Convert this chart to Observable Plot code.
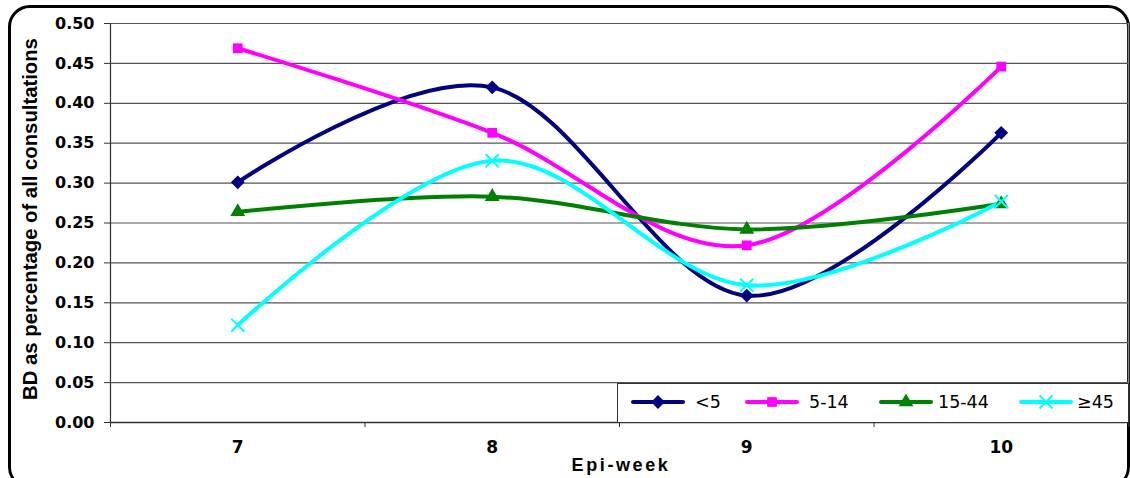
<!DOCTYPE html>
<html>
<head>
<meta charset="utf-8">
<script src="https://cdn.jsdelivr.net/npm/d3@7"></script>
<script src="https://cdn.jsdelivr.net/npm/@observablehq/plot@0.6"></script>
<style>
  html, body { margin: 0; padding: 0; background: #fff; overflow: hidden; }
  #wrap { position: relative; width: 1130px; height: 478px; overflow: hidden; }
  #frame { position: absolute; left: 8px; top: 5px; width: 1116px; height: 478px;
           border: 3px solid #000; border-radius: 22px; }
  #chart { position: absolute; left: 0; top: 0; }
  #legend { position: absolute; left: 617px; top: 383px; width: 510px; height: 38px;
            border: 1px solid #333; background: #fff; font-family: "DejaVu Sans", sans-serif;
            font-size: 17.5px; color: #000; }
  .lg-sw { position: absolute; top: 9px; }
  .lg-tx { position: absolute; top: 8px; line-height: 20px; }
  #ytitle { position: absolute; left: 30px; top: 219px; transform: translate(-50%, -50%) rotate(-90deg);
            white-space: nowrap; font-family: "Liberation Sans", Arial, sans-serif; font-weight: bold;
            font-size: 20.3px; line-height: 22px; }
  #xtitle { position: absolute; left: 621px; top: 465px; transform: translate(-50%, -50%);
            white-space: nowrap; font-family: "Liberation Sans", Arial, sans-serif; font-weight: bold;
            font-size: 18px; letter-spacing: 2.6px; line-height: 20px; }
</style>
</head>
<body>
<div id="wrap">
  <div id="frame"></div>
  <div id="chart"></div>
  <div id="legend"></div>
  <div id="ytitle"></div>
  <div id="xtitle"></div>
</div>
<script>
// ---- data ----
const weeks = [7, 8, 9, 10];
const under5 = [0.301, 0.420, 0.159, 0.363];
const age5to14 = [0.469, 0.363, 0.222, 0.446];
const age15to44 = [0.264, 0.283, 0.242, 0.274];
const age45plus = [0.122, 0.328, 0.172, 0.277];
const seriesNames = ["<5", "5-14", "15-44", "≥45"];
const seriesColors = ["#000080", "#FF00FF", "#008000", "#00FFFF"];
const yTicks = [0, 0.05, 0.10, 0.15, 0.20, 0.25, 0.30, 0.35, 0.40, 0.45, 0.50];
const weekBounds = [6.5, 7.5, 8.5, 9.5, 10.5];
const yLabel = "BD as percentage of all consultations";
const xLabel = "Epi-week";

// square diamond (rotated square) symbol
const squareDiamond = {
  draw(context, size) {
    const r = Math.sqrt(size / 2);
    context.moveTo(0, -r); context.lineTo(r, 0); context.lineTo(0, r); context.lineTo(-r, 0); context.closePath();
  }
};
const seriesSymbols = [squareDiamond, d3.symbolSquare, d3.symbolTriangle, d3.symbolTimes];

const seriesValues = [under5, age5to14, age15to44, age45plus];
const rows = [];
seriesNames.forEach((name, i) => {
  weeks.forEach((w, j) => rows.push({series: name, week: w, value: seriesValues[i][j]}));
});

const chart = Plot.plot({
  width: 1130,
  height: 478,
  marginLeft: 110,
  marginRight: 2,
  marginTop: 23,
  marginBottom: 56,
  style: {background: "transparent", fontFamily: "DejaVu Sans, sans-serif", color: "#000"},
  x: {domain: [6.5, 10.5]},
  y: {domain: [0, 0.5]},
  color: {domain: seriesNames, range: seriesColors},
  symbol: {domain: seriesNames, range: seriesSymbols},
  marks: [
    Plot.ruleY(yTicks, {stroke: "#555", strokeWidth: 1.2}),
    Plot.ruleX([10.5], {stroke: "#888", strokeWidth: 1.5}),
    Plot.ruleX([6.5], {stroke: "#333", strokeWidth: 1.2}),
    Plot.ruleY([0], {stroke: "#333", strokeWidth: 1.5}),
    Plot.axisY({ticks: yTicks, tickFormat: d3.format(".2f"), tickSize: 6, tickPadding: 10,
                fontWeight: "bold", fontSize: 16, label: null, stroke: "#333"}),
    Plot.axisX({ticks: weekBounds, tickFormat: () => "", tickSize: 5, label: null, stroke: "#333"}),
    Plot.axisX({ticks: weeks, tickFormat: d => String(d), tickSize: 0, tickPadding: 18,
                fontWeight: "bold", fontSize: 17, label: null}),
    Plot.line(rows, {x: "week", y: "value", z: "series", stroke: "series", strokeWidth: 4,
                     curve: "cardinal"}),
    Plot.dot(rows.filter(d => d.series !== "≥45"), {x: "week", y: "value", symbol: "series", fill: "series",
                     stroke: "none", r: 5.5}),
    Plot.dot(rows.filter(d => d.series === "≥45"), {x: "week", y: "value", symbol: "series", stroke: "series",
                     strokeWidth: 2, r: 6})
  ]
});
document.getElementById("chart").appendChild(chart);
document.getElementById("ytitle").textContent = yLabel;
document.getElementById("xtitle").textContent = xLabel;

// ---- legend ----
const legend = document.getElementById("legend");
const swLeft = [13, 127, 261, 401];
const txLeft = [77, 191, 320, 459];
seriesNames.forEach((name, i) => {
  const sw = document.createElementNS("http://www.w3.org/2000/svg", "svg");
  sw.setAttribute("width", 54);
  sw.setAttribute("height", 18);
  sw.setAttribute("class", "lg-sw");
  sw.style.left = swLeft[i] + "px";
  const line = document.createElementNS("http://www.w3.org/2000/svg", "line");
  line.setAttribute("x1", 2); line.setAttribute("x2", 52);
  line.setAttribute("y1", 9); line.setAttribute("y2", 9);
  line.setAttribute("stroke", seriesColors[i]);
  line.setAttribute("stroke-width", 4);
  line.setAttribute("stroke-linecap", "round");
  sw.appendChild(line);
  const p = document.createElementNS("http://www.w3.org/2000/svg", "path");
  p.setAttribute("d", d3.symbol(seriesSymbols[i], i === 3 ? 110 : 95)());
  p.setAttribute("transform", "translate(27,9)");
  if (i === 3) { p.setAttribute("fill", "none"); p.setAttribute("stroke", seriesColors[i]); p.setAttribute("stroke-width", 2); }
  else { p.setAttribute("fill", seriesColors[i]); }
  sw.appendChild(p);
  legend.appendChild(sw);
  const tx = document.createElement("div");
  tx.className = "lg-tx";
  tx.style.left = txLeft[i] + "px";
  tx.textContent = name;
  legend.appendChild(tx);
});
</script>
</body>
</html>
